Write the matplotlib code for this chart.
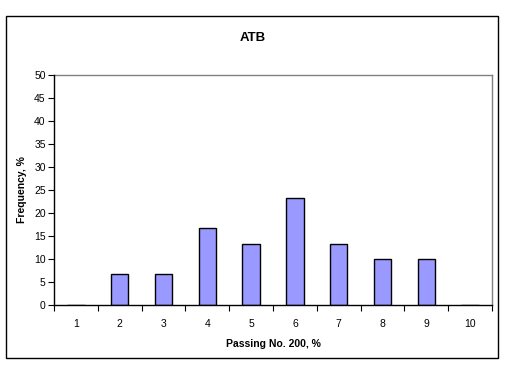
import matplotlib.pyplot as plt
import numpy as np
from matplotlib.patches import Rectangle

categories = ["1", "2", "3", "4", "5", "6", "7", "8", "9", "10"]
frequency = [0, 6.7, 6.7, 16.7, 13.3, 23.3, 13.3, 10.0, 10.0, 0]

plt.rcParams["font.family"] = ["Liberation Sans", "DejaVu Sans"]

W, H = 506, 365
fig = plt.figure(figsize=(W / 100, H / 100), dpi=100)
fig.patch.set_facecolor("white")

# outer chart border
fig.patches.append(Rectangle((6 / W, 1 - 358 / H), 492 / W, 342 / H,
                             transform=fig.transFigure, fill=False,
                             edgecolor="black", linewidth=1.0))

ax = fig.add_axes([54 / W, 1 - 305 / H, 438 / W, 230 / H])
x = np.arange(1, len(categories) + 1)
ax.bar(x, frequency, width=0.4, color="#9999FF", edgecolor="black", linewidth=1.0, zorder=3)

ax.set_xlim(0.5, len(categories) + 0.5)
ax.set_ylim(0, 50)
ax.set_yticks(np.arange(0, 51, 5))
ax.set_xticks(np.arange(0.5, len(categories) + 1, 1))
ax.set_xticklabels([])
ax.set_xticks(x, minor=True)
ax.set_xticklabels(categories, minor=True)
ax.tick_params(axis="x", which="minor", length=0, labelsize=7.5, pad=10)
ax.tick_params(axis="x", which="major", length=4, direction="out", color="black")
ax.tick_params(axis="y", length=4, direction="out", labelsize=7.5, pad=2)

for side in ["top", "right"]:
    ax.spines[side].set_color("#808080")
    ax.spines[side].set_linewidth(1.0)
for side in ["left", "bottom"]:
    ax.spines[side].set_color("black")
    ax.spines[side].set_linewidth(1.0)
    ax.spines[side].set_zorder(4)

ax.set_xlabel("Passing No. 200, %", fontsize=7.5, fontweight="bold", labelpad=7)
ax.set_ylabel("Frequency, %", fontsize=7.5, fontweight="bold", labelpad=5)
fig.text(0.5, 1 - 38 / H, "ATB", ha="center", va="center",
         fontsize=9.5, fontweight="bold")

fig.savefig("out.png", dpi=100)
